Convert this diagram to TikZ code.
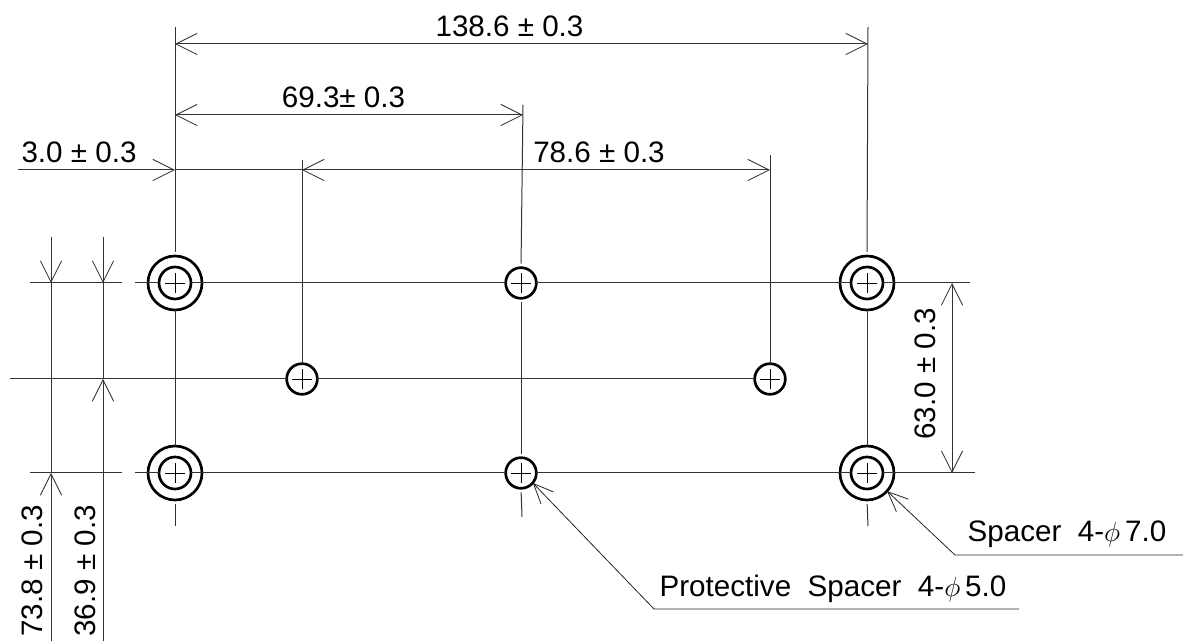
\documentclass[tikz,border=0pt]{standalone}
\usepackage{fontspec}
\setmainfont{Liberation Sans}
\usetikzlibrary{arrows.meta}
\tikzset{
  thinline/.style={line width=0.75pt,draw=black!80},
  dimline/.style={thinline,{Straight Barb[length=16pt,width=16pt,line width=0.6pt]}-{Straight Barb[length=16pt,width=16pt,line width=0.6pt]}},
  tipend/.style={thinline,-{Straight Barb[length=16pt,width=16pt,line width=0.6pt]}},
  leader/.style={line width=0.6pt,draw=black!85,{Straight Barb[length=15pt,width=13pt,line width=0.6pt]}-},
  gapline/.style={thinline,shorten >=3pt,shorten <=3pt},
  ring/.style={circle,draw=black,line width=2pt,inner sep=0pt,outer sep=0pt},
  crossed/.style={path picture={
    \draw[line width=0.6pt] ([xshift=-7.5pt]path picture bounding box.center)--([xshift=7.5pt]path picture bounding box.center);
    \draw[line width=0.6pt] ([yshift=-7.5pt]path picture bounding box.center)--([yshift=7.5pt]path picture bounding box.center);}},
  outerring/.style={ring,minimum size=40.5pt},
  innerring/.style={ring,crossed,minimum size=24pt},
  smallring/.style={ring,crossed,minimum size=23pt},
  dimtext/.style={inner sep=0pt,font=\fontsize{22.2}{25}\selectfont},
}
\begin{document}
\begin{tikzpicture}[x=0.75pt,y=-0.75pt]
\useasboundingbox (0,0) rectangle (1183,641);
\fill[white] (0,0) rectangle (1183,641);

% holes
\node[outerring] (TL) at (175,283) {};
\node[innerring] (TLi) at (175,283) {};
\node[outerring] (BL) at (175,473) {};
\node[innerring] (BLi) at (175,473) {};
\node[outerring] (TR) at (867,283) {};
\node[innerring] (TRi) at (867,283) {};
\node[outerring] (BR) at (867,473) {};
\node[innerring] (BRi) at (867,473) {};
\node[smallring] (TM) at (521,283) {};
\node[smallring] (BM) at (521,473) {};
\node[smallring] (ML) at (302,379) {};
\node[smallring] (MR) at (770,379) {};

% short centre-line dashes between the rings
\foreach \h in {TL,BL,TR,BR}{
  \draw[thinline] (\h.west) -- (\h i.west);
  \draw[thinline] (\h i.east) -- (\h.east);
}

% free ends
\coordinate (aT) at (175,27);
\coordinate (aB) at (175,526);
\coordinate (bT) at (302,160);
\coordinate (cT) at (523,105);
\coordinate (cB) at (522,517);
\coordinate (dT) at (770,155);
\coordinate (eT) at (868,27);
\coordinate (eB) at (868,526);
\coordinate (h1a) at (30,283);  \coordinate (h1b) at (122,283);
\coordinate (h1c) at (135,283); \coordinate (h1d) at (970,283);
\coordinate (h2a) at (10,379);  \coordinate (h2d) at (785,379);
\coordinate (h3a) at (30,473);  \coordinate (h3b) at (122,473);
\coordinate (h3c) at (135,473); \coordinate (h3d) at (975,473);

% vertical centre lines
\draw[thinline,shorten >=3pt] (aT) -- (TL.north);
\draw[thinline] (TL.south) -- (BL.north);
\draw[thinline,shorten <=3pt] (BL.south) -- (aB);
\draw[thinline] (bT) -- (ML.north);
\draw[thinline,shorten >=3pt] (cT) -- (TM.north);
\draw[gapline] (TM.south) -- (BM.north);
\draw[thinline,shorten <=3pt] (BM.south) -- (cB);
\draw[thinline] (dT) -- (MR.north);
\draw[thinline,shorten >=3pt] (eT) -- (TR.north);
\draw[thinline] (TR.south) -- (BR.north);
\draw[thinline,shorten <=3pt] (BR.south) -- (eB);

% horizontal centre lines
\draw[thinline] (h1a) -- (h1b);
\draw[thinline] (h1c) -- (TL.west);
\draw[thinline] (TL.east) -- (TM.west);
\draw[thinline] (TM.east) -- (TR.west);
\draw[thinline] (TR.east) -- (h1d);
\draw[thinline] (h2a) -- (ML.west);
\draw[thinline] (ML.east) -- (MR.west);
\draw[thinline] (MR.east) -- (h2d);
\draw[thinline] (h3a) -- (h3b);
\draw[thinline] (h3c) -- (BL.west);
\draw[thinline] (BL.east) -- (BM.west);
\draw[thinline] (BM.east) -- (BR.west);
\draw[thinline] (BR.east) -- (h3d);

% horizontal dimensions
\coordinate (d1l) at (175,44);  \coordinate (d1r) at (868,44);
\coordinate (d2l) at (175,115); \coordinate (d2r) at (523,115);
\coordinate (d3s) at (18,170);  \coordinate (d3a) at (175,170);
\coordinate (d3b) at (302,170); \coordinate (d3c) at (770,170);
\draw[dimline] (d1l) -- (d1r);
\draw[dimline] (d2l) -- (d2r);
\draw[tipend] (d3s) -- (d3a);
\draw[dimline] (d3b) -- (d3c);
\draw[thinline] (d3a) -- (d3b);

% vertical dimensions
\coordinate (v1t) at (51,237);  \coordinate (v1a) at (51,283); \coordinate (v1b) at (51,473); \coordinate (v1e) at (51,641);
\coordinate (v2t) at (103,237); \coordinate (v2a) at (103,283); \coordinate (v2b) at (103,379); \coordinate (v2e) at (103,641);
\coordinate (v3a) at (952,283); \coordinate (v3b) at (952,473);
\draw[tipend] (v1t) -- (v1a);
\draw[thinline] (v1a) -- (v1b);
\draw[tipend] (v1e) -- (v1b);
\draw[tipend] (v2t) -- (v2a);
\draw[thinline] (v2a) -- (v2b);
\draw[tipend] (v2e) -- (v2b);
\draw[dimline] (v3a) -- (v3b);

% leaders
\coordinate (l1) at (654,609); \coordinate (l1e) at (1019,609);
\coordinate (l2) at (955,555); \coordinate (l2e) at (1183,555);
\draw[leader] (BM.-40) -- (l1) -- (l1e);
\draw[leader] (BR.-42) -- (l2) -- (l2e);

% texts
\node[dimtext] (t1) at (509.5,26) {138.6 ± 0.3};
\node[dimtext] (t2) at (343.5,97) {69.3± 0.3};
\node[dimtext] (t3) at (79,152) {3.0 ± 0.3};
\node[dimtext] (t4) at (599,152) {78.6 ± 0.3};
\node[dimtext,rotate=90] (t5) at (32,571) {73.8 ± 0.3};
\node[dimtext,rotate=90] (t6) at (85,571) {36.9 ± 0.3};
\node[dimtext,rotate=90] (t7) at (925,374) {63.0 ± 0.3};
\node[dimtext] (t8) at (1067,534) {Spacer\ \ 4-$\phi$\,7.0};
\node[dimtext] (t9) at (833,589) {Protective\ \ Spacer\ \ 4-$\phi$\,5.0};
\end{tikzpicture}
\end{document}
